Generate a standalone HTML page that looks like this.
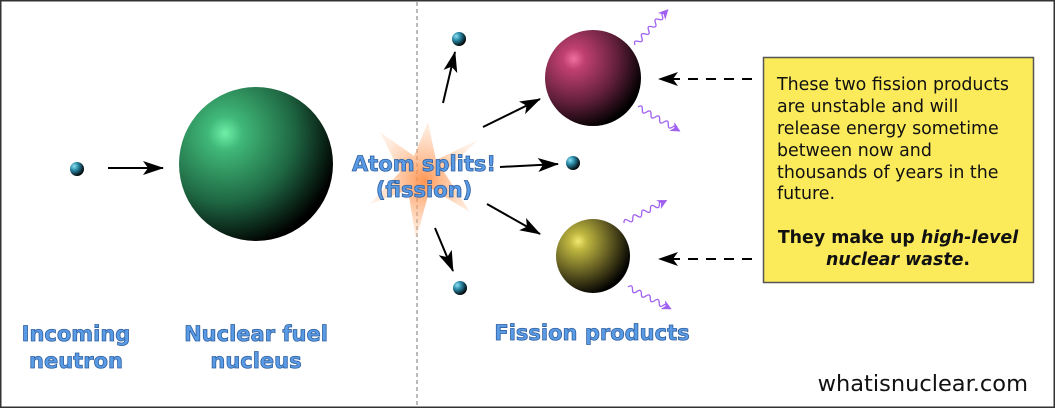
<!DOCTYPE html>
<html><head><style>
html,body{margin:0;padding:0;background:#fff}
svg{display:block}
.lbl{font-family:"DejaVu Sans",sans-serif;font-weight:bold;font-size:21px;fill:#5a9be6;stroke:#2f5f9e;stroke-width:0.8px;text-anchor:middle}
.box{font-family:"DejaVu Sans",sans-serif;font-size:17.4px;fill:#111}
</style></head><body>
<svg width="1055" height="408" viewBox="0 0 1055 408" xmlns="http://www.w3.org/2000/svg">
<defs>
<radialGradient id="gn" cx="0.3" cy="0.3" r="0.75"><stop offset="0" stop-color="#6ff0a8"/><stop offset="0.15" stop-color="#40b878"/><stop offset="0.6" stop-color="#1e6642"/><stop offset="1" stop-color="#000"/></radialGradient>
<radialGradient id="gp" cx="0.3" cy="0.3" r="0.75"><stop offset="0" stop-color="#f070a0"/><stop offset="0.15" stop-color="#c04070"/><stop offset="0.6" stop-color="#64203c"/><stop offset="1" stop-color="#000"/></radialGradient>
<radialGradient id="gy" cx="0.3" cy="0.3" r="0.75"><stop offset="0" stop-color="#f0e870"/><stop offset="0.15" stop-color="#c0b840"/><stop offset="0.6" stop-color="#5c5620"/><stop offset="1" stop-color="#000"/></radialGradient>
<radialGradient id="gb" cx="0.3" cy="0.3" r="0.75"><stop offset="0" stop-color="#8fe0f0"/><stop offset="0.4" stop-color="#2a8aa8"/><stop offset="1" stop-color="#000"/></radialGradient>
<radialGradient id="gs" cx="0.5" cy="0.5" r="0.5"><stop offset="0" stop-color="#ff8a40"/><stop offset="1" stop-color="#ffc8a0" stop-opacity="0.3"/></radialGradient>
<marker id="ah" markerWidth="22" markerHeight="14" refX="20" refY="7" orient="auto" markerUnits="userSpaceOnUse"><path d="M0,0 L21,7 L0,14 L5,7z" fill="#000"/></marker>
<marker id="pa" markerWidth="10" markerHeight="10" refX="9" refY="5" orient="auto" markerUnits="userSpaceOnUse"><path d="M0,0 L10,5 L0,10 L3,5z" fill="#a060f0"/></marker>
</defs>
<rect x="0.5" y="0.5" width="1054" height="407" fill="#fff" stroke="#333" stroke-width="2"/>
<line x1="417" y1="2" x2="417" y2="406" stroke="#777" stroke-width="1" stroke-dasharray="4,3"/>
<path d="M428,122 L436,160 L478,140 L444,172 L470,212 L430,188 L416,240 L408,190 L370,204 L400,172 L380,132 L414,156z" fill="url(#gs)" opacity="0.9"/>
<circle cx="77" cy="169" r="7" fill="url(#gb)"/>
<circle cx="256" cy="164" r="77" fill="url(#gn)"/>
<circle cx="593" cy="78" r="48" fill="url(#gp)"/>
<circle cx="593" cy="256" r="37" fill="url(#gy)"/>
<circle cx="459" cy="39" r="7" fill="url(#gb)"/>
<circle cx="573" cy="163" r="7" fill="url(#gb)"/>
<circle cx="460" cy="288" r="7" fill="url(#gb)"/>
<g stroke="#000" stroke-width="2" fill="none" marker-end="url(#ah)">
<line x1="108" y1="168" x2="163" y2="168"/>
<line x1="443" y1="103" x2="455" y2="52"/>
<line x1="483" y1="127" x2="540" y2="99"/>
<line x1="500" y1="167" x2="558" y2="164"/>
<line x1="487" y1="204" x2="540" y2="234"/>
<line x1="435" y1="228" x2="453" y2="271"/>
</g>
<g stroke="#000" stroke-width="2" fill="none">
<line x1="752" y1="79" x2="672" y2="79" stroke-dasharray="10,8"/>
<line x1="752" y1="259" x2="672" y2="259" stroke-dasharray="10,8"/>
</g>
<path d="M658,79 L678,72 L673,79 L678,86z" fill="#000"/>
<path d="M658,259 L678,252 L673,259 L678,266z" fill="#000"/>
<g stroke="#a060f0" stroke-width="1.3" fill="none" marker-end="url(#pa)">
<path transform="translate(635,45) rotate(-47)" d="M0,0 q2.5,-5 5,0 t5,0 t5,0 t5,0 t5,0 t5,0 t5,0 t5,0 t5,0 l3,0"/>
<path transform="translate(638,107) rotate(30)" d="M0,0 q2.5,-5 5,0 t5,0 t5,0 t5,0 t5,0 t5,0 t5,0 t5,0 t5,0 l3,0"/>
<path transform="translate(624,223) rotate(-28)" d="M0,0 q2.5,-5 5,0 t5,0 t5,0 t5,0 t5,0 t5,0 t5,0 t5,0 t5,0 l3,0"/>
<path transform="translate(628,287) rotate(27)" d="M0,0 q2.5,-5 5,0 t5,0 t5,0 t5,0 t5,0 t5,0 t5,0 t5,0 t5,0 l3,0"/>
</g>
<text class="lbl" x="424" y="171">Atom splits!</text>
<text class="lbl" x="424" y="197">(fission)</text>
<text class="lbl" x="76" y="341">Incoming</text>
<text class="lbl" x="76" y="368">neutron</text>
<text class="lbl" x="256" y="341">Nuclear fuel</text>
<text class="lbl" x="256" y="368">nucleus</text>
<text class="lbl" x="592" y="340">Fission products</text>
<rect x="763.5" y="57.5" width="270" height="225" fill="#fbeb5b" stroke="#555" stroke-width="1.5"/>
<g class="box">
<text x="777" y="90">These two fission products</text>
<text x="777" y="112">are unstable and will</text>
<text x="777" y="134">release energy sometime</text>
<text x="777" y="156">between now and</text>
<text x="777" y="178">thousands of years in the</text>
<text x="777" y="199">future.</text>
<text x="898" y="243" text-anchor="middle" font-weight="bold">They make up <tspan font-style="italic">high-level</tspan></text>
<text x="898" y="265" text-anchor="middle" font-weight="bold"><tspan font-style="italic">nuclear waste</tspan>.</text>
</g>
<text x="1028" y="391" text-anchor="end" style="font-family:'DejaVu Sans',sans-serif;font-size:22.5px;fill:#111">whatisnuclear.com</text>
</svg>
</body></html>
